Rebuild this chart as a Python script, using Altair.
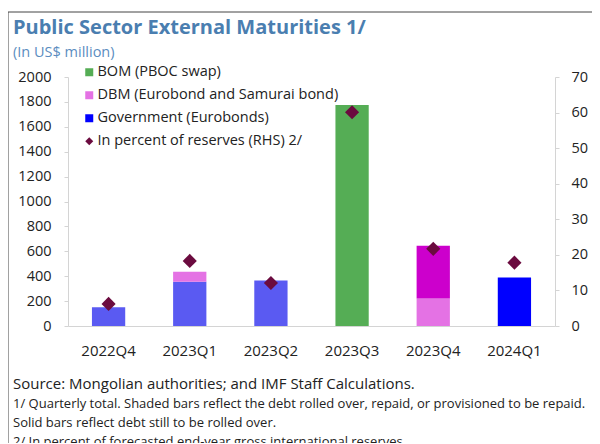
import altair as alt
import pandas as pd

quarters = ["2022Q4", "2023Q1", "2023Q2", "2023Q3", "2023Q4", "2024Q1"]
gov_shaded = [150, 355, 365, 0, 0, 0]
gov_solid = [0, 0, 0, 0, 0, 390]
dbm_shaded = [0, 80, 0, 0, 220, 0]
dbm_solid = [0, 0, 0, 0, 425, 0]
bom_shaded = [0, 0, 0, 1775, 0, 0]
reserves_pct = [6.2, 18.3, 12.1, 60.1, 21.7, 17.8]

legend_labels = ["BOM (PBOC swap)", "DBM (Eurobond and Samurai bond)",
                 "Government (Eurobonds)", "In percent of reserves (RHS) 2/"]
title_text = "Public Sector External Maturities 1/"
subtitle_text = "(In US$ million)"
notes = [
    "Source: Mongolian authorities; and IMF Staff Calculations.",
    "1/ Quarterly total. Shaded bars reflect the debt rolled over, repaid, or provisioned to be repaid.",
    "Solid bars reflect debt still to be rolled over.",
    "2/ In percent of forecasted end-year gross international reserves.",
]

segments = [
    ("Government shaded", gov_shaded),
    ("Government solid", gov_solid),
    ("DBM shaded", dbm_shaded),
    ("DBM solid", dbm_solid),
    ("BOM shaded", bom_shaded),
]
seg_names = [s[0] for s in segments]
seg_colors = ["#5a5af2", "#0000ff", "#e472e4", "#cc00cc", "#55ad55"]

rows = []
for order, (name, vals) in enumerate(segments):
    for q, v in zip(quarters, vals):
        if v > 0:
            rows.append({"quarter": q, "segment": name, "value": v, "ord": order})
bars_df = pd.DataFrame(rows)

pts_df = pd.DataFrame({"quarter": quarters, "pct": reserves_pct,
                       "series": [legend_labels[3]] * len(quarters)})

FONT = "Open Sans"
TXT = "#222222"
GRID = "#d4d4d4"

xenc = alt.X("quarter:N", sort=quarters,
             scale=alt.Scale(paddingInner=0.59, paddingOuter=0.295),
             axis=alt.Axis(title=None, labelAngle=0, ticks=False, domainColor=GRID,
                           labelFontSize=15, labelPadding=17, labelColor=TXT, labelFont=FONT))

bars = alt.Chart(bars_df).mark_bar().encode(
    x=xenc,
    y=alt.Y("value:Q", stack="zero",
            scale=alt.Scale(domain=[0, 2000], nice=False),
            axis=alt.Axis(title=None, values=list(range(0, 2001, 200)), grid=False, format="d",
                          domainColor=GRID, tickColor=GRID, tickSize=4,
                          labelPadding=13, labelFontSize=14.5, labelColor=TXT, labelFont=FONT)),
    color=alt.Color("segment:N", scale=alt.Scale(domain=seg_names, range=seg_colors), legend=None),
    order=alt.Order("ord:Q"),
)

leg = dict(title=None, orient="none", legendX=14, legendY=-12,
           padding=0, symbolSize=64, rowPadding=8, labelLimit=0,
           labelFontSize=14.5, labelFont=FONT, labelColor=TXT,
           labelOffset=1, symbolStrokeWidth=0)

pts = alt.Chart(pts_df).mark_point(filled=True, size=200, opacity=1).encode(
    x=xenc,
    y=alt.Y("pct:Q", scale=alt.Scale(domain=[0, 70], nice=False),
            axis=alt.Axis(title=None, orient="right", values=list(range(0, 71, 10)), grid=False,
                          domainColor=GRID, tickColor=GRID, tickSize=4,
                          labelPadding=12, labelFontSize=14.5, labelColor=TXT, labelFont=FONT)),
    color=alt.Color("series:N",
                    scale=alt.Scale(domain=legend_labels,
                                    range=["#55ad55", "#e472e4", "#0000ff", "#6b0b3f"]),
                    legend=alt.Legend(**leg)),
    shape=alt.Shape("series:N",
                    scale=alt.Scale(domain=legend_labels,
                                    range=["square", "square", "square", "diamond"]),
                    legend=alt.Legend(**leg)),
)

def label(text, x, y, size, color=TXT, weight="normal"):
    return alt.Chart().mark_text(text=text, align="left", baseline="middle", font=FONT,
                                 fontSize=size, color=color, fontWeight=weight).encode(
        x=alt.value(x), y=alt.value(y))

texts = [
    label(title_text, -55, -49, 20, "#4a7eb0", "bold"),
    label(subtitle_text, -55, -24, 14.5, "#5b8dc0"),
    label(notes[0], -55, 307, 15),
    label(notes[1], -55, 327, 13),
    label(notes[2], -55, 346, 13),
    label(notes[3], -55, 365, 13),
]

frame_top = alt.Chart().mark_rule(color="#444444", strokeWidth=1).encode(
    x=alt.value(-60), x2=alt.value(524), y=alt.value(-65))
frame_left = alt.Chart().mark_rule(color="#444444", strokeWidth=1).encode(
    x=alt.value(-60), y=alt.value(-65), y2=alt.value(400))

chart = alt.layer(bars, pts, frame_top, frame_left, *texts).resolve_scale(
    y="independent", color="independent", shape="independent"
).properties(
    width=487, height=249,
    autosize=alt.AutoSizeParams(type="none"),
    padding={"left": 60, "top": 69, "right": 37, "bottom": 117},
).configure_view(strokeWidth=0)

chart.save("out.html", embed_options={"renderer": "svg", "actions": False})
